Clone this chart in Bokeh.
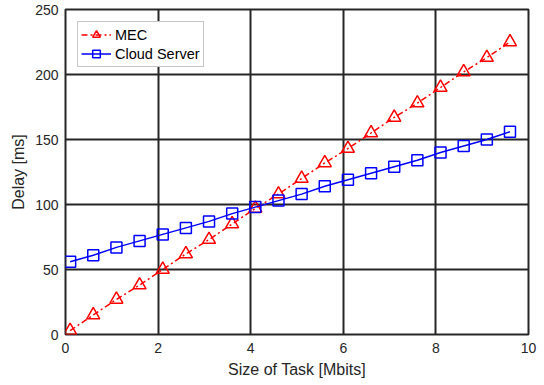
from bokeh.plotting import figure
from bokeh.models import Range1d, FixedTicker, Legend, LegendItem
from bokeh.embed import file_html
from bokeh.resources import INLINE

task_size = [0.1, 0.6, 1.1, 1.6, 2.1, 2.6, 3.1, 3.6, 4.1, 4.6,
             5.1, 5.6, 6.1, 6.6, 7.1, 7.6, 8.1, 8.6, 9.1, 9.6]
mec_delay = [3, 15, 27, 38, 50, 62, 73, 85, 97, 108,
             120, 132, 143, 155, 167, 178, 190, 202, 213, 225]
cloud_delay = [56, 61, 67, 72, 77, 82, 87, 93, 98, 103,
               108, 114, 119, 124, 129, 134, 140, 145, 150, 156]
x_ticks = [0, 2, 4, 6, 8, 10]
y_ticks = [0, 50, 100, 150, 200, 250]

FONT = "Liberation Sans"
TXT = "#262626"

p = figure(width=544, height=385, output_backend="svg", toolbar_location=None,
           x_range=Range1d(0, 10), y_range=Range1d(0, 250),
           min_border_left=65, min_border_right=16, min_border_top=9, min_border_bottom=51)
p.background_fill_color = "white"
p.border_fill_color = "white"
p.outline_line_color = TXT
p.outline_line_width = 2
p.outline_line_alpha = 1

for ax in (p.xaxis[0], p.yaxis[0]):
    ax.axis_line_color = None
    ax.major_tick_in = 0
    ax.major_tick_out = 0
    ax.minor_tick_in = 0
    ax.minor_tick_out = 0
    ax.major_label_text_font = FONT
    ax.major_label_text_font_size = "14px"
    ax.major_label_text_color = TXT
    ax.axis_label_text_font = FONT
    ax.axis_label_text_font_size = "16px"
    ax.axis_label_text_font_style = "normal"
    ax.axis_label_text_color = TXT

p.xaxis.ticker = FixedTicker(ticks=x_ticks)
p.yaxis.ticker = FixedTicker(ticks=y_ticks)
p.xaxis.axis_label = "Size of Task [Mbits]"
p.yaxis.axis_label = "Delay [ms]"
p.xaxis.major_label_standoff = 8
p.yaxis.major_label_standoff = 7
p.xaxis.axis_label_standoff = 5
p.yaxis.axis_label_standoff = 5

p.xgrid.ticker = FixedTicker(ticks=x_ticks)
p.ygrid.ticker = FixedTicker(ticks=y_ticks)
for g in (p.xgrid[0], p.ygrid[0]):
    g.grid_line_color = TXT
    g.grid_line_width = 2
    g.grid_line_alpha = 1

mec_line = p.line(task_size, mec_delay, line_color="#FF0000", line_width=1.5, line_dash="6 3 2 3")
mec_mark = p.scatter(task_size, mec_delay, marker="triangle", size=13, line_color="#FF0000",
                     line_width=1.5, fill_color=None)
cl_line = p.line(task_size, cloud_delay, line_color="#0000FF", line_width=1.5)
cl_mark = p.scatter(task_size, cloud_delay, marker="square", size=11, line_color="#0000FF",
                    line_width=1.5, fill_color=None)

legend = Legend(items=[LegendItem(label="MEC", renderers=[mec_line, mec_mark]),
                       LegendItem(label="Cloud Server", renderers=[cl_line, cl_mark])],
                location="top_left")
legend.margin = 12
legend.padding = 3
legend.spacing = 0
legend.glyph_width = 30
legend.glyph_height = 19
legend.label_height = 19
legend.label_standoff = 4
legend.label_text_font = FONT
legend.label_text_font_size = "14.5px"
legend.label_text_color = "black"
legend.border_line_color = "#8c8c8c"
legend.border_line_width = 1
legend.background_fill_color = "white"
legend.background_fill_alpha = 1
p.add_layout(legend)

open("out.html", "w").write(file_html(p, INLINE))
